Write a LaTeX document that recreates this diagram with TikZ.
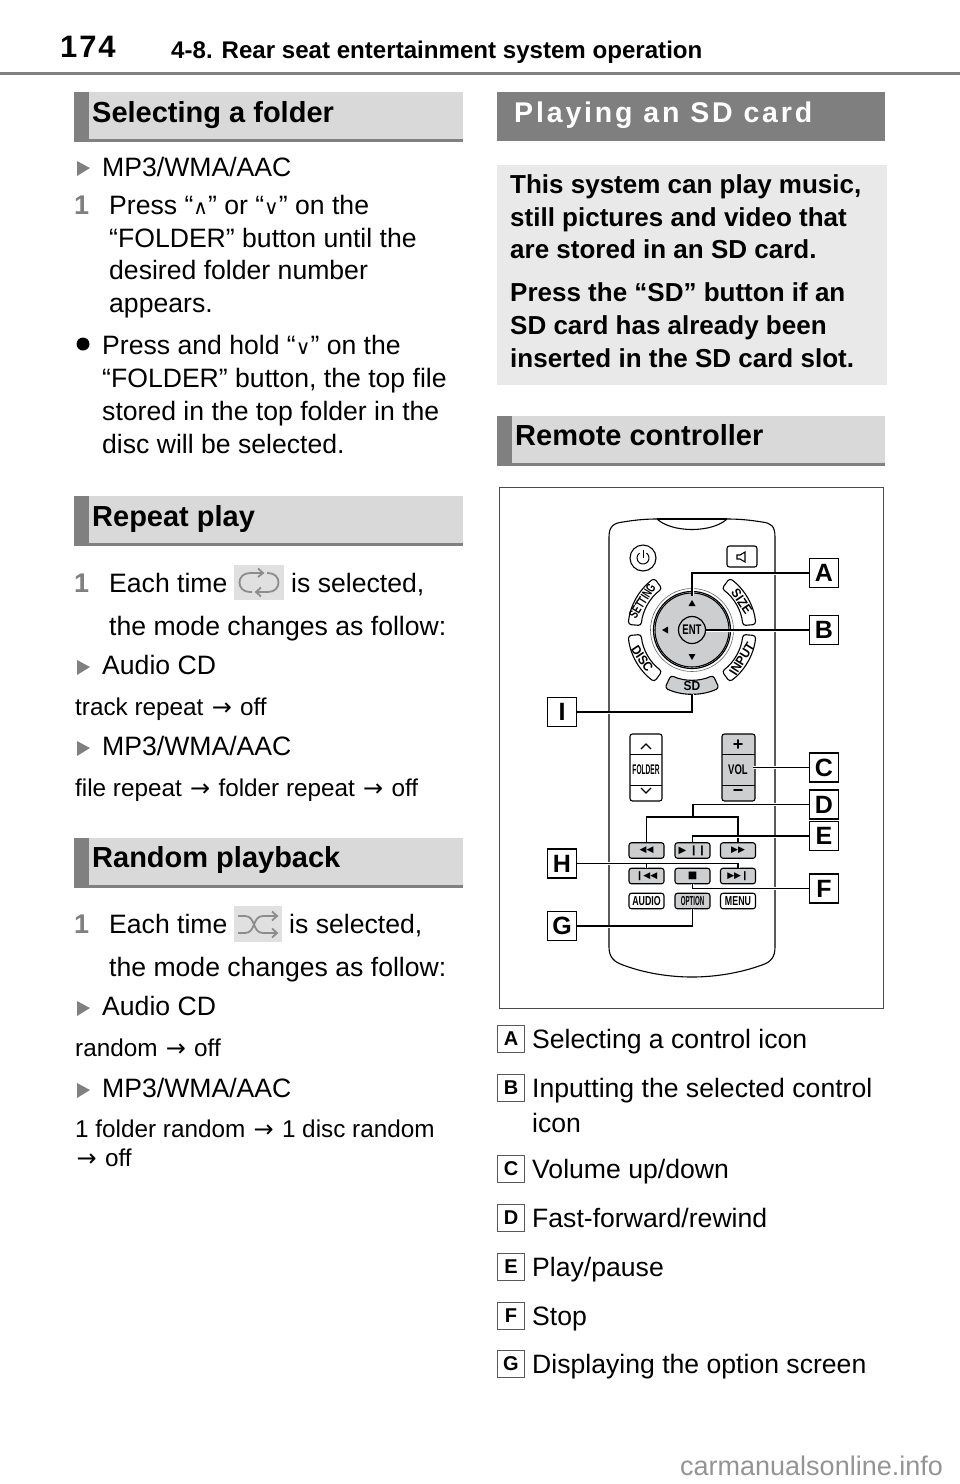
\documentclass[tikz,border=0pt]{standalone}
\usepackage{fontspec}
\setmainfont{Liberation Sans}
\newfontfamily\symfont{DejaVu Sans}
\newfontfamily\narrowbold[FakeStretch=0.68]{Liberation Sans Bold}
\newfontfamily\condbold[FakeStretch=0.92]{Liberation Sans Bold}
\newfontfamily\thinbold[FakeStretch=0.47]{Liberation Sans Bold}
\newfontfamily\spacedbold[LetterSpace=10]{Liberation Sans Bold}
\newfontfamily\pagenumfont[LetterSpace=6]{Liberation Sans Bold}
\usetikzlibrary{positioning,calc}
\definecolor{barlight}{HTML}{D9D9D9}
\definecolor{bardark}{HTML}{7F7F7F}
\definecolor{boxlight}{HTML}{E9E9E9}
\definecolor{btngrey}{HTML}{CDCECF}
\definecolor{rulegrey}{HTML}{808080}
\newcommand{\fs}[1]{\fontsize{#1}{#1}\selectfont}
% section bar: x0, x1, y0
\newcommand{\headbar}[3]{
  \fill[barlight] (#1,#3) rectangle (#2,#3+48);
  \fill[rulegrey] (#1,#3) rectangle (#1+15,#3+48);
  \fill[rulegrey] (#1,#3+47) rectangle (#2,#3+50);
}
\newcommand{\bulletmark}[2]{
  \fill[rulegrey] (#1,#2-7) -- (#1+13,#2) -- (#1,#2+8) -- cycle;
}
\newcommand{\midarrow}{\kern1.5pt{\symfont\fs{24}→}\kern1.5pt}
\tikzset{
  body/.style={anchor=base west,inner sep=0pt,font=\fs{26.6}},
  small/.style={anchor=base west,inner sep=0pt,font=\fs{24.3}},
  stepnum/.style={anchor=base west,inner sep=0pt,font=\fs{27}\bfseries,text=rulegrey},
  barhead/.style={anchor=base west,inner sep=0pt,font=\fs{29}\bfseries},
  boxtext/.style={anchor=base west,inner sep=0pt,font=\fs{26}\bfseries},
  callout/.style={draw,line width=1.2pt,fill=white,minimum size=29pt,inner sep=0pt,font=\fs{25}\bfseries},
  listtag/.style={draw=black!65,line width=1pt,minimum size=27pt,inner sep=0pt,font=\fs{20}\bfseries},
  leader/.style={line width=1.2pt,preaction={draw,white,line width=3pt}},
  btn/.style={draw,line width=1.1pt,rounded corners=2.5pt,minimum width=35pt,minimum height=15.5pt,inner sep=0pt,font=\fs{13}\narrowbold},
  btngrey/.style={btn,fill=btngrey},
  remote/.style={line width=1.1pt},
  arcbtn/.style={draw,line width=1.1pt,rounded corners=3pt},
  arctext/.style={inner sep=0pt,font=\fs{13}\condbold},
  icon/.style={draw=black!45,line width=1.8pt}
}
\begin{document}
\begin{tikzpicture}[x=1pt,y=-1pt]
  \useasboundingbox (0,0) rectangle (960,1484);
  % page head
  \node[anchor=base west,inner sep=0pt,font=\fs{31}\pagenumfont] (pagenum) at (60,57) {174};
  \node[anchor=base west,inner sep=0pt,font=\fs{24.1}\bfseries] (chapter) at (171,58) {4-8. Rear seat entertainment system operation};
  \fill[rulegrey] (0,71.5) rectangle (960,75);

  % left column
  \headbar{74}{463}{92}
  \node[barhead] (folderhead) at (92,122) {Selecting a folder};
  \bulletmark{77}{168}
  \node[body] (foldermp3) at (102,176) {MP3/WMA/AAC};
  \node[stepnum] (folderone) at (74,214) {1};
  \node[body] (folderla) at (109,214) {Press “{\symfont\fs{20}∧}” or “{\symfont\fs{20}∨}” on the};
  \node[body] (folderlb) at (109,247) {“FOLDER” button until the};
  \node[body] (folderlc) at (109,279) {desired folder number};
  \node[body] (folderld) at (109,312) {appears.};
  \fill[black] (83,344) circle (6.5);
  \node[body] (holdla) at (102,354) {Press and hold “{\symfont\fs{20}∨}” on the};
  \node[body] (holdlb) at (102,387) {“FOLDER” button, the top file};
  \node[body] (holdlc) at (102,420) {stored in the top folder in the};
  \node[body] (holdld) at (102,453) {disc will be selected.};

  \headbar{74}{463}{496}
  \node[barhead] (repeathead) at (92,526) {Repeat play};
  \node[stepnum] (repeatone) at (74,592) {1};
  \node[body] (repeatla) at (109,592) {Each time};
  \fill[black!12] (234,565) rectangle (284,600);
  \draw[icon] (263,573) -- (250,573) .. controls (236,573) and (236,592) .. (250,592) -- (252,592);
  \draw[icon] (258,568.5) -- (263,573) -- (258,577);
  \draw[icon] (256,592) -- (268,592) .. controls (282,592) and (282,573) .. (268,573) -- (267,573);
  \draw[icon] (261,587.5) -- (256,592) -- (261,596.5);
  \node[body] (repeatlb) at (291,592) {is selected,};
  \node[body] (repeatlc) at (109,635) {the mode changes as follow:};
  \bulletmark{77}{667}
  \node[body] (repeatcd) at (102,674) {Audio CD};
  \node[small] (repeatcdm) at (75,715) {track repeat \midarrow{} off};
  \bulletmark{77}{748}
  \node[body] (repeatmp) at (102,755) {MP3/WMA/AAC};
  \node[small] (repeatmpm) at (75,796) {file repeat \midarrow{} folder repeat \midarrow{} off};

  \headbar{74}{463}{838}
  \node[barhead] (randomhead) at (92,867) {Random playback};
  \node[stepnum] (randomone) at (74,933) {1};
  \node[body] (randomla) at (109,933) {Each time};
  \fill[black!12] (234,906) rectangle (282,942);
  \draw[icon] (238,916) -- (245,916) .. controls (256,916) and (252,933) .. (263,933) -- (277,933);
  \draw[icon] (272,928.5) -- (277,933) -- (272,937.5);
  \draw[icon] (238,933) -- (245,933) .. controls (256,933) and (252,916) .. (263,916) -- (277,916);
  \draw[icon] (272,911.5) -- (277,916) -- (272,920.5);
  \node[body] (randomlb) at (289,933) {is selected,};
  \node[body] (randomlc) at (109,976) {the mode changes as follow:};
  \bulletmark{77}{1008}
  \node[body] (randomcd) at (102,1015) {Audio CD};
  \node[small] (randomcdm) at (75,1056) {random \midarrow{} off};
  \bulletmark{77}{1090}
  \node[body] (randommp) at (102,1097) {MP3/WMA/AAC};
  \node[small] (randommpa) at (75,1137) {1 folder random \midarrow{} 1 disc random};
  \node[small] (randommpb) at (75,1166) {\midarrow{} off};

  % right column
  \fill[bardark] (497,92) rectangle (885,141);
  \node[anchor=base west,inner sep=0pt,font=\fs{28.5}\spacedbold,text=white] (sdhead) at (514,122) {Playing an SD card};
  \fill[boxlight] (497,165) rectangle (887,385);
  \node[boxtext] (sdla) at (510,193) {This system can play music,};
  \node[boxtext] (sdlb) at (510,226) {still pictures and video that};
  \node[boxtext] (sdlc) at (510,258) {are stored in an SD card.};
  \node[boxtext] (sdld) at (510,301) {Press the “SD” button if an};
  \node[boxtext] (sdle) at (510,334) {SD card has already been};
  \node[boxtext] (sdlf) at (510,367) {inserted in the SD card slot.};

  \headbar{497}{885}{416}
  \node[barhead] (remotehead) at (515,445) {Remote controller};

  % remote picture
  \draw[black!70,line width=1pt] (499,487) rectangle (883,1008);
  \draw[remote] (609,947) -- (609,537) .. controls (609,526) and (614,523) .. (623,522)
    .. controls (635,520) and (645,519) .. (657,519) .. controls (672,533) and (712,533) .. (727,519)
    .. controls (739,519) and (750,520) .. (762,522) .. controls (771,523) and (775,526) .. (775,537)
    -- (775,947) .. controls (775,957) and (771,962) .. (762,965)
    .. controls (740,973) and (715,977) .. (692,977) .. controls (669,977) and (644,973) .. (623,965)
    .. controls (614,962) and (609,957) .. (609,947);
  \draw[remote] (657,519) -- (727,519);
  \draw[remote] (643,558) circle (13);
  \node[draw,line width=1.1pt,rounded corners=2.5pt,minimum width=30pt,minimum height=21pt] (btnmute) at (742,556.5) {};
  \draw[line width=1.1pt] (737,555) -- (740,555) -- (745,552) -- (745,562) -- (740,559) -- (737,559) -- cycle;
  \begin{scope}[shift={(643,558)},y=1pt]
    \draw[line width=1pt] (55:6) arc (55:-235:6);
    \draw[line width=1pt] (0,8) -- (0,0);
  \end{scope}

  % arc buttons round the pad
  \begin{scope}[shift={(692,630)},y=1pt]
    \fill[btngrey] (0,0) circle (37);
    \draw[black!60,line width=.6pt] (0,0) circle (41.5);
    \draw[line width=1.2pt] (0,0) circle (38.5);
    \draw[arcbtn] (126:64) arc (126:175:64) -- (175:51) arc (175:126:51) -- cycle;
    \draw[arcbtn] (54:64) arc (54:5:64) -- (5:51) arc (5:54:51) -- cycle;
    \draw[arcbtn] (185:64) arc (185:234:64) -- (234:51) arc (234:185:51) -- cycle;
    \draw[arcbtn] (355:64) arc (355:306:64) -- (306:51) arc (306:355:51) -- cycle;
    \draw[arcbtn,fill=btngrey] (245:64) arc (245:295:64) -- (295:50) arc (295:245:50) -- cycle;
    \node[arctext,rotate=58,font=\fs{13}\narrowbold] (lblsetting) at (150:57.5) {SETTING};
    \node[arctext,rotate=-56] (lblsize) at (30:57.5) {SIZE};
    \node[arctext,rotate=-56] (lbldisc) at (210:57.5) {DISC};
    \node[arctext,rotate=58] (lblinput) at (330:57.5) {INPUT};
    \node[arctext] (lblsd) at (270:56.5) {SD};
  \end{scope}
  \fill (692,600) -- (688.5,606) -- (695.5,606) -- cycle;
  \fill (692,660) -- (688.5,654) -- (695.5,654) -- cycle;
  \fill (662,630) -- (668,626.5) -- (668,633.5) -- cycle;
  \node[circle,draw,line width=1.2pt,fill=btngrey,minimum size=27pt,inner sep=0pt,font=\fs{14}\narrowbold] (btnent) at (692,630) {ENT};

  % buttons
  \draw[line width=1.1pt,rounded corners=2.5pt] (630,734) rectangle (662,801);
  \draw[line width=.6pt] (630,754) -- (662,754);
  \draw[line width=.6pt] (630,785) -- (662,785);
  \draw[line width=1.3pt] (641,749) -- (646,744) -- (651,749);
  \draw[line width=1.3pt] (641,788) -- (646,793) -- (651,788);
  \node[inner sep=0pt,font=\fs{14}\thinbold] (btnfolder) at (646,770) {FOLDER};
  \draw[line width=1.1pt,rounded corners=2.5pt,fill=btngrey] (722,734) rectangle (755,801);
  \draw[line width=.6pt] (722,754) -- (755,754);
  \draw[line width=.6pt] (722,785) -- (755,785);
  \node[inner sep=0pt,font=\fs{18}\bfseries] (btnplus) at (738,745.5) {+};
  \node[inner sep=0pt,font=\fs{14}\narrowbold] (btnvol) at (738,770) {VOL};
  \node[inner sep=0pt,font=\fs{18}\bfseries] (btnminus) at (738,793) {−};
  \node[btngrey] (btnrew) at (646.5,850.5) {\symfont\fs{9}◀◀};
  \node[btngrey] (btnplay) at (692.5,850.5) {\symfont\fs{10}▶ ❙❙};
  \node[btngrey] (btnff) at (738,850.5) {\symfont\fs{9}▶▶};
  \node[btngrey] (btnprev) at (646.5,876) {\symfont\fs{9}❙◀◀};
  \node[btngrey] (btnstop) at (692.5,876) {\symfont\fs{10}■};
  \node[btngrey] (btnnext) at (738,876) {\symfont\fs{9}▶▶❙};
  \node[btn] (btnaudio) at (646.5,901) {AUDIO};
  \node[btngrey,font=\fs{13}\thinbold] (btnoption) at (692.5,901) {OPTION};
  \node[btn] (btnmenu) at (738,901) {MENU};

  % callouts
  \node[callout] (tagA) at (824,573) {A};
  \node[callout] (tagB) at (824,630) {B};
  \node[callout] (tagI) at (562,712) {I};
  \node[callout] (tagC) at (824,767.5) {C};
  \node[callout] (tagD) at (824,804.5) {D};
  \node[callout] (tagE) at (824,836) {E};
  \node[callout] (tagF) at (824,888.5) {F};
  \node[callout] (tagH) at (562,863.5) {H};
  \node[callout] (tagG) at (562,926) {G};
  \coordinate (padtop) at (692,596);
  \coordinate (sdbottom) at (692,694);
  \coordinate (volend) at (753,767.5);
  \coordinate (fork) at (693,817);
  \draw[leader] (tagA.west) -| (padtop);
  \draw[leader] (tagB.west) -- (btnent.east);
  \draw[leader] (tagI.east) -| (sdbottom);
  \draw[leader] (tagC.west) -- (volend);
  \draw[leader] (tagD.west) -| (fork);
  \draw[leader] (btnrew.north) |- (btnff.north |- fork) -- (btnff.north);
  \draw[leader] (tagE.west) -| (btnplay.north);
  \draw[leader] (tagF.west) -| (btnstop.south);
  \draw[leader] (tagH.east) -| (btnnext.north);
  \draw[leader] (btnprev.north) -- (btnprev.north |- tagH.east);
  \draw[leader] (tagG.east) -| (btnoption.south);

  % legend
  \foreach \lab/\ytag/\ytxt/\txt in {A/1038.5/1048/{Selecting a control icon},B/1087.5/1097/{Inputting the selected control},C/1169/1178/{Volume up/down},D/1217.5/1227/{Fast-forward/rewind},E/1266.5/1276/{Play/pause},F/1315.5/1325/{Stop},G/1363.5/1373/{Displaying the option screen}} {
    \node[listtag] (list\lab) at (511,\ytag) {\lab};
    \node[body] (text\lab) at (532,\ytxt) {\txt};
  }
  \node[body] (textBb) at (532,1132) {icon};

  % watermark
  \node[anchor=base west,inner sep=0pt,font=\fs{27},text=black!42] (watermark) at (680,1475) {carmanualsonline.info};
\end{tikzpicture}
\end{document}
